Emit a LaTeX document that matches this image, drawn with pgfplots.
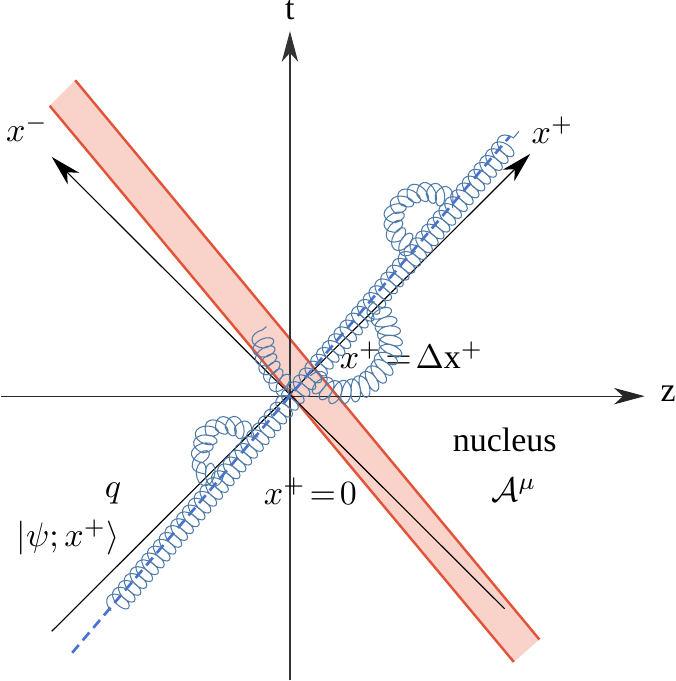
\documentclass[border=0pt]{standalone}
\usepackage{fontspec}
\setmainfont{Liberation Serif}
\usepackage{pgfplots}
\pgfplotsset{compat=1.18}
\usetikzlibrary{arrows.meta,decorations.pathmorphing}
\definecolor{bandfill}{RGB}{249,210,202}
\definecolor{bandline}{RGB}{226,84,58}
\definecolor{qblue}{RGB}{72,112,215}
\definecolor{gluon}{RGB}{78,122,168}
\tikzset{lab/.style={scale=0.83, inner sep=0pt},
  arr/.style={-{Stealth[length=7.5pt,width=4pt,inset=2.2pt]}},
  coilst/.style={gluon, line width=0.25pt, decorate, decoration={coil, aspect=0.6, segment length=2.2pt, amplitude=2.8pt}}}
\begin{document}
\begin{tikzpicture}
\begin{axis}[hide axis, disabledatascaling, x=0.25pt, y=0.25pt, xmin=0, xmax=673, ymin=0, ymax=681,
  y dir=reverse, clip=false, scale only axis]
\coordinate (O) at (axis cs:0,0);
% nucleus band
\addplot[fill=bandfill, draw=none] coordinates {(58,118) (83,93) (537,640) (512,662)} -- cycle;
\addplot[bandline, line width=0.6pt] coordinates {(58,118) (512,662)};
\addplot[bandline, line width=0.6pt] coordinates {(83,93) (537,640)};
% t and z axes
\addplot[black!80, line width=0.3pt, arr] coordinates {(293,680) (293,45)};
\addplot[black!85, line width=0.3pt, arr] coordinates {(10,402) (640,402)};
% light-cone axes
\addplot[black, line width=0.28pt, arr] coordinates {(60,632) (528,165)};
\addplot[black, line width=0.28pt, arr] coordinates {(503,610) (60,168)};
% quark line
\addplot[qblue, line width=0.65pt, dash pattern=on 2.5pt off 1.5pt] coordinates {(80,653) (508,148)};
% labels
\node[lab] at (axis cs:293,24) {t};
\node[lab] at (axis cs:663,400) {z};
\node[lab] at (axis cs:36,140) {$x^-$};
\node[lab] at (axis cs:550,142) {$x^+$};
\node[lab] at (axis cs:412,362) {$x^+\!=\!\Delta\mathrm{x}^+$};
\node[lab] at (axis cs:503,445) {nucleus};
\node[lab] at (axis cs:512,494) {$\mathcal{A}^\mu$};
\node[lab] at (axis cs:120,497) {$q$};
\node[lab] at (axis cs:76,540) {$|\psi;x^+\rangle$};
\node[lab] at (axis cs:313,495) {$x^+\!=\!0$};
\end{axis}
% gluon coils, in the axis's own pixel frame
\begin{scope}[shift={(O)}, x=0.25pt, y=-0.25pt]
\draw[coilst] (118,612) -- (517,143);
\draw[coilst] (228,480) -- (217,479) -- (210,470) -- (208,459) -- (210,448) -- (217,439) -- (227,434) -- (238,433) -- (249,438) -- (262,442);
\draw[coilst] (296,398) -- (288,392) -- (281,384) -- (275,375) -- (271,366) -- (268,356) -- (267,346) -- (270,334);
\draw[coilst] (313,382) -- (320,388) -- (328,393) -- (337,395.5) -- (347,396) -- (357,394) -- (366,390) -- (374,384) -- (381,377) -- (386,368) -- (389,358) -- (389.5,348) -- (388,338) -- (385,330) -- (381,322) -- (377,316) -- (372,310);
\draw[coilst] (416,260) -- (408,254) -- (401,246) -- (398,238) -- (397,230) -- (400,221) -- (405,214) -- (413,208) -- (423,205) -- (432,205) -- (440,207) -- (447,212) -- (452,218);
\end{scope}
\end{tikzpicture}
\end{document}
